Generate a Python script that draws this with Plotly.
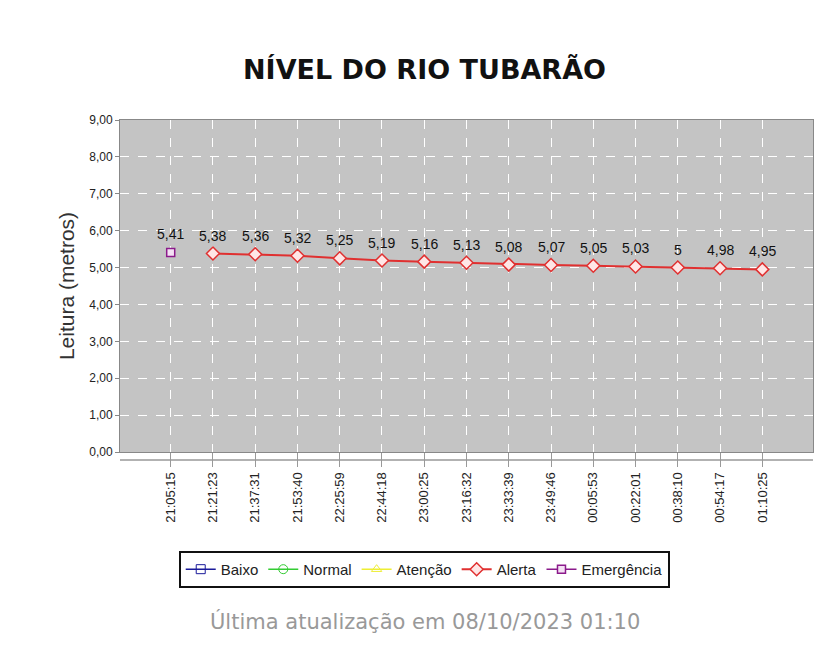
import plotly.graph_objects as go

times = ["21:05:15", "21:21:23", "21:37:31", "21:53:40", "22:25:59", "22:44:18",
         "23:00:25", "23:16:32", "23:33:39", "23:49:46", "00:05:53", "00:22:01",
         "00:38:10", "00:54:17", "01:10:25"]
emergencia = [5.41] + [None] * 14
alerta = [None, 5.38, 5.36, 5.32, 5.25, 5.19, 5.16, 5.13, 5.08, 5.07, 5.05, 5.03, 5.00, 4.98, 4.95]
labels = ["5,41", "5,38", "5,36", "5,32", "5,25", "5,19", "5,16", "5,13", "5,08",
          "5,07", "5,05", "5,03", "5", "4,98", "4,95"]
yticks = [0, 1, 2, 3, 4, 5, 6, 7, 8, 9]

x = list(range(len(times)))
fig = go.Figure()
for name, color, sym in [("Baixo", "#1a1a9a", "square-open"),
                         ("Normal", "#33cc33", "circle-open"),
                         ("Atenção", "#eeee33", "triangle-up-open")]:
    fig.add_trace(go.Scatter(x=[None], y=[None], name=name, mode="lines+markers",
                             line=dict(color=color, width=1.5),
                             marker=dict(symbol=sym, size=9, color=color)))
fig.add_trace(go.Scatter(x=x, y=alerta, name="Alerta", mode="lines+markers",
                         line=dict(color="#e03030", width=2),
                         marker=dict(symbol="diamond", size=10, color="#ffe6e6",
                                     line=dict(color="#e03030", width=1.5))))
fig.add_trace(go.Scatter(x=x, y=emergencia, name="Emergência", mode="lines+markers",
                         line=dict(color="#8b1a8b", width=1.5),
                         marker=dict(symbol="square", size=8, color="#f4e0f4",
                                     line=dict(color="#8b1a8b", width=1.5))))
vals = [e if e is not None else a for e, a in zip(emergencia, alerta)]
for i, (v, t) in enumerate(zip(vals, labels)):
    fig.add_annotation(x=i, y=v, text=t, showarrow=False, yshift=18,
                       font=dict(size=14, color="#111", family="Liberation Sans Narrow, Liberation Sans"))

fig.add_shape(type="line", xref="paper", yref="paper", x0=0, x1=1, y0=-0.024, y1=-0.024,
              line=dict(color="#999", width=1.5))
fig.add_annotation(xref="paper", yref="paper", x=0.44, y=1.205, text="<b>NÍVEL DO RIO TUBARÃO</b>",
                   showarrow=False, font=dict(size=27, color="#111", family="DejaVu Sans"))
fig.add_annotation(xref="paper", yref="paper", x=0.44, y=-0.554, text="Última atualização em 08/10/2023 01:10",
                   showarrow=False, font=dict(size=21, color="#999", family="DejaVu Sans"))

fig.update_layout(
    width=828, height=647, margin=dict(l=112, r=23, t=112, b=203),
    paper_bgcolor="white", plot_bgcolor="#c4c4c4", separators=",.",
    showlegend=True,
    legend=dict(orientation="h", x=0.439, xanchor="center", y=-0.298, yanchor="top",
                bordercolor="#111", borderwidth=2, font=dict(size=15, color="#222", family="Liberation Sans Narrow, Liberation Sans"),
                itemwidth=30, tracegroupgap=0),
    font=dict(family="Liberation Sans"),
)
fig.update_xaxes(range=[-1.2, 15.2], tickvals=x, ticktext=times, tickangle=-90, automargin=False,
                 showgrid=True, gridcolor="white", griddash="dash", gridwidth=1,
                 ticks="outside", ticklen=14, tickcolor="#999", zeroline=False,
                 tickfont=dict(size=13, color="#222"), mirror=True, showline=True, linecolor="#888")
fig.update_yaxes(range=[0, 9], tickvals=yticks, tickformat=".2f", automargin=False,
                 showgrid=True, gridcolor="white", griddash="dash", gridwidth=1,
                 ticks="outside", ticklen=4, tickcolor="#888", zeroline=False,
                 tickfont=dict(size=12, color="#222"), mirror=True, showline=True, linecolor="#888",
                 title=dict(text="Leitura (metros)", font=dict(size=21, color="#333"), standoff=8))
fig.write_html("out.html")
